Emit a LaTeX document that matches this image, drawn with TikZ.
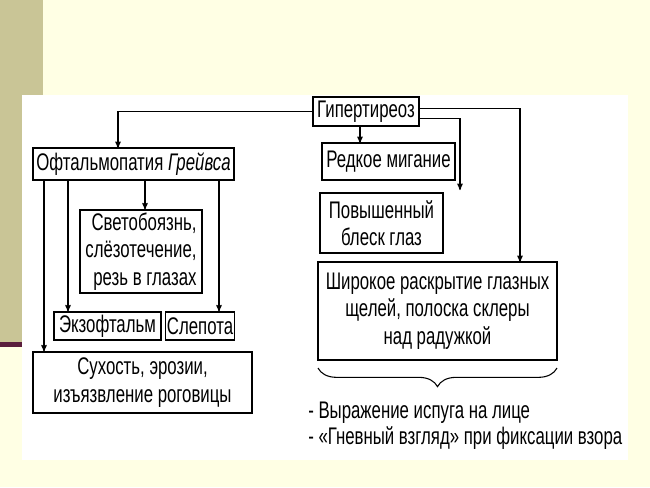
\documentclass[tikz,border=0pt]{standalone}
\usepackage{fontspec}
\setmainfont{Liberation Sans}[FakeStretch=0.7]
\usetikzlibrary{arrows}
\usetikzlibrary{decorations.pathreplacing}
\definecolor{slidebg}{HTML}{FFFFE4}
\definecolor{olivebar}{HTML}{C9C596}
\definecolor{plumline}{HTML}{5A1E3C}
\tikzset{
    box/.style = {draw=black, thick, align=center, inner sep=1pt, font=\fontsize{18pt}{20.5pt}\selectfont},
    link/.style = {-{stealth'[scale=1.8]}, thick}
}

\begin{document}
\begin{tikzpicture}[x=0.75pt, y=-0.75pt]
    \useasboundingbox (0,0) rectangle (650,487);
    % slide background
    \fill[slidebg] (0,0) rectangle (650,487);
    \fill[olivebar] (0,0) rectangle (43,345);
    \fill[plumline] (0,342) rectangle (43,347);
    \fill[white] (22,95) rectangle (628,460);

    \node [box, minimum width=79.5pt, minimum height=21.75pt] (hyp) at (366,111.5) {Гипертиреоз};
    \node [box, minimum width=150.75pt, minimum height=24pt] (oft) at (133.5,164) {Офтальмопатия \textit{Грейвса}};
    \node [box, minimum width=91.5pt, minimum height=62.25pt, align=right] (svet) at (141,251.5) {Светобоязнь,\\слёзотечение,\\резь в глазах};
    \node [box, minimum width=80.25pt, minimum height=21pt] (exo) at (107.5,326) {Экзофтальм};
    \node [box, minimum width=48pt, minimum height=21pt] (blind) at (200,326) {Слепота};
    \node [box, minimum width=164.25pt, minimum height=45.75pt] (dry) at (142.5,382.5) {Сухость, эрозии,\\изъязвление роговицы};

    \node [box, minimum width=99.75pt, minimum height=27.75pt] (blink) at (388.5,161.5) {Редкое мигание};
    \node [box, minimum width=92.25pt, minimum height=45pt] (shine) at (381.5,223) {Повышенный\\блеск глаз};
    \node [box, minimum width=179.25pt, minimum height=73.5pt] (wide) at (437.5,311) {Широкое раскрытие глазных\\щелей, полоска склеры\\над радужкой};

    % arrow ends
    \coordinate (toOft) at (118,148);
    \coordinate (fromHyp) at (360,126);
    \coordinate (toBlink) at (360,143);
    \coordinate (toShine) at (460,190);
    \coordinate (toWide) at (520,262);

    \draw [link] (hyp.west) -| (toOft);
    \draw [link] (fromHyp) -- (toBlink);
    \draw [link] ([yshift=-5pt]hyp.east) -| (toShine);
    \draw [link] ([yshift=2.5pt]hyp.east) -| (toWide);

    \foreach \x/\target in {44/dry, 68/exo, 145/svet, 219/blind}
        \draw [link] (oft.south -| \x,0) -- (\target.north -| \x,0);

    \draw [thick, decorate, decoration={brace, mirror, amplitude=14pt}] (318,368) -- (557,368);
    \node [anchor=north west, align=left, inner sep=0pt, font=\fontsize{18pt}{19.5pt}\selectfont] (notes) at (308,402)
        {- Выражение испуга на лице\\- «Гневный взгляд» при фиксации взора};
\end{tikzpicture}
\end{document}
